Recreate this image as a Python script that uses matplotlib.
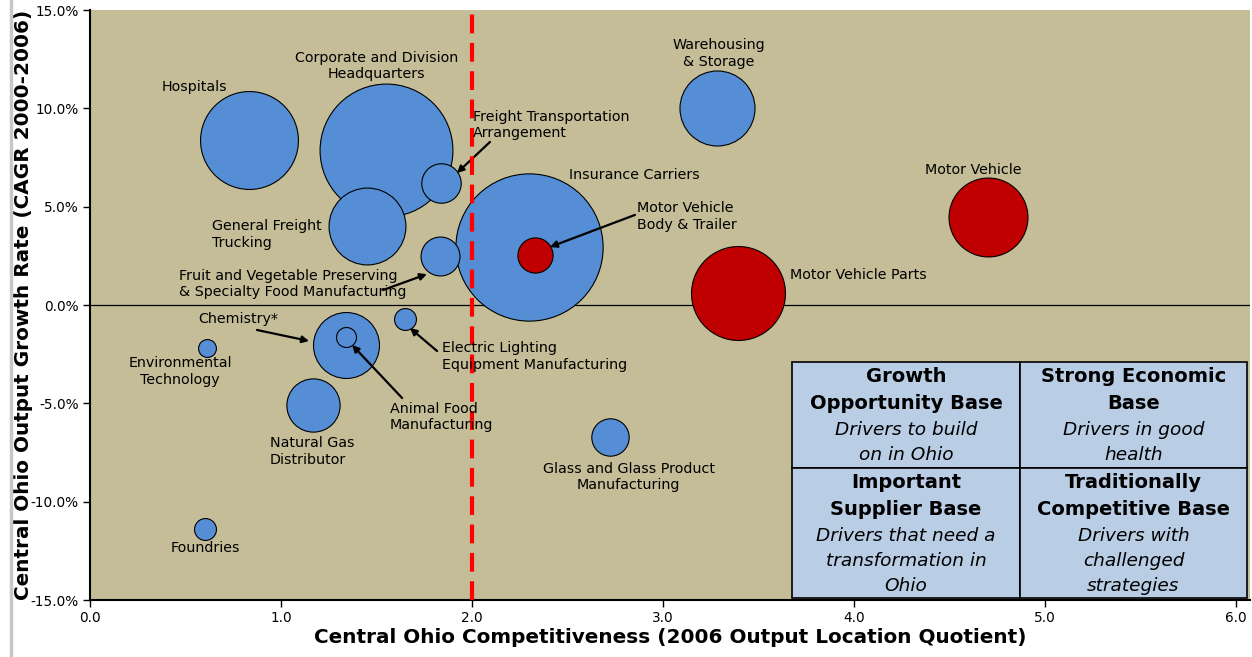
import matplotlib
matplotlib.use("Agg")
import matplotlib.pyplot as plt
from matplotlib.patches import Rectangle
from matplotlib.lines import Line2D

# industry clusters: competitiveness (LQ), output growth (%), bubble size (output)
names = ["Hospitals", "Corporate and Division Headquarters", "Freight Transportation Arrangement",
         "General Freight Trucking", "Fruit and Vegetable Preserving", "Insurance Carriers",
         "Motor Vehicle Body & Trailer", "Warehousing & Storage", "Motor Vehicle",
         "Motor Vehicle Parts", "Chemistry*", "Animal Food Manufacturing",
         "Electric Lighting Equipment Manufacturing", "Environmental Technology",
         "Natural Gas Distributor", "Glass and Glass Product Manufacturing", "Foundries"]
lq = [0.83, 1.55, 1.84, 1.45, 1.83, 2.30, 2.33, 3.28, 4.70, 3.39, 1.34, 1.34, 1.65, 0.61, 1.17, 2.72, 0.60]
growth = [8.4, 7.9, 6.2, 4.0, 2.5, 2.95, 2.55, 10.0, 4.5, 0.6, -2.05, -1.65, -0.7, -2.2, -5.1, -6.7, -11.4]
size = [240, 442, 39, 148, 38, 543, 31, 141, 156, 221, 109, 10, 12, 8, 71, 35, 12]
auto = [False, False, False, False, False, False, True, False, True, True, False, False, False, False, False, False, False]

xticks = [0.0, 1.0, 2.0, 3.0, 4.0, 5.0, 6.0]
yticks = [-15, -10, -5, 0, 5, 10, 15]

bg = "#C4BD97"
blue = "#558ED5"
red = "#C00000"
boxc = "#B9CDE5"

fig = plt.figure(figsize=(12.52, 6.57), dpi=100)
ax = fig.add_axes([90/1252, 57/657, 1160/1252, 590/657])
ax.set_facecolor(bg)
ax.set_xlim(0, 6.073)
ax.set_ylim(-15, 15)

# draw big bubbles first so small ones sit on top
order = sorted(range(len(names)), key=lambda i: -size[i])
for i in order:
    ax.scatter(lq[i], growth[i], s=size[i] * 20.7, color=red if auto[i] else blue,
               edgecolors="black", linewidths=0.8, zorder=3)

ax.axhline(0, color="black", lw=0.9, zorder=2)
ax.axvline(2.0, color="#FF0000", lw=3, dashes=(4.5, 2.3), zorder=4)

ax.set_xticks(xticks)
ax.set_xticklabels(["%.1f" % t for t in xticks], fontsize=9.8)
ax.set_yticks(yticks)
ax.set_yticklabels(["%.1f%%" % t for t in yticks], fontsize=9.8)
ax.tick_params(direction="out", length=5, width=1, pad=3)
for s in ["top", "right"]:
    ax.spines[s].set_visible(False)
for s in ["left", "bottom"]:
    ax.spines[s].set_linewidth(1.5)

ax.set_xlabel("Central Ohio Competitiveness (2006 Output Location Quotient)",
              fontsize=14.4, fontweight="bold", labelpad=2)
ax.set_ylabel("Central Ohio Output Growth Rate (CAGR 2000-2006)",
              fontsize=14.4, fontweight="bold")
ax.yaxis.set_label_coords(-57/1160, 0.5)

fs = 10.3
ls = 1.25
def lab(x, y, t, ha="center"):
    ax.text(x, y, t, ha=ha, va="center", fontsize=fs, linespacing=ls, zorder=5)

# plain labels
lab(0.545, 11.1, "Hospitals")
lab(1.50, 12.15, "Corporate and Division\nHeadquarters")
lab(3.29, 12.8, "Warehousing\n& Storage")
lab(2.85, 6.6, "Insurance Carriers")
lab(4.625, 6.85, "Motor Vehicle")
lab(3.665, 1.55, "Motor Vehicle Parts", "left")
lab(0.64, 3.6, "General Freight\nTrucking", "left")
lab(0.471, -3.4, "Environmental\nTechnology")
lab(0.942, -7.45, "Natural Gas\nDistributor", "left")
lab(2.82, -8.75, "Glass and Glass Product\nManufacturing")
lab(0.602, -12.35, "Foundries")

# labels with arrows
arrow = dict(arrowstyle="-|>", color="black", lw=1.6, mutation_scale=10, shrinkA=0, shrinkB=0)
lab(2.005, 9.15, "Freight Transportation\nArrangement", "left")
ax.annotate("", xy=(1.921, 6.71), xytext=(2.094, 8.29), arrowprops=arrow)
lab(2.864, 4.5, "Motor Vehicle\nBody & Trailer", "left")
ax.annotate("", xy=(2.408, 2.95), xytext=(2.853, 4.58), arrowprops=arrow, zorder=5)
lab(0.466, 1.07, "Fruit and Vegetable Preserving\n& Specialty Food Manufacturing", "left")
ax.annotate("", xy=(1.764, 1.57), xytext=(1.534, 0.76), arrowprops=arrow)
lab(0.775, -0.7, "Chemistry*")
ax.annotate("", xy=(1.147, -1.83), xytext=(0.874, -1.27), arrowprops=arrow, zorder=5)
lab(1.571, -5.7, "Animal Food\nManufacturing", "left")
ax.annotate("", xy=(1.372, -2.03), xytext=(1.634, -4.73), arrowprops=arrow, zorder=5)
lab(1.843, -2.6, "Electric Lighting\nEquipment Manufacturing", "left")
ax.annotate("", xy=(1.675, -1.17), xytext=(1.817, -2.34), arrowprops=arrow, zorder=5)

# quadrant legend box (axes fraction)
x0, xm, x1 = 0.605, 0.802, 0.997
y0, ym, y1 = 0.003, 0.224, 0.403
for (a, b, c, d) in [(x0, ym, xm, y1), (xm, ym, x1, y1), (x0, y0, xm, ym), (xm, y0, x1, ym)]:
    ax.add_patch(Rectangle((a, b), c - a, d - b, transform=ax.transAxes, facecolor=boxc,
                           edgecolor="black", lw=1.2, zorder=6))

cells = [
    ((x0 + xm) / 2, y1, ["Growth", "Opportunity Base"], ["Drivers to build", "on in Ohio"]),
    ((xm + x1) / 2, y1, ["Strong Economic", "Base"], ["Drivers in good", "health"]),
    ((x0 + xm) / 2, ym, ["Important", "Supplier Base"], ["Drivers that need a", "transformation in", "Ohio"]),
    ((xm + x1) / 2, ym, ["Traditionally", "Competitive Base"], ["Drivers with", "challenged", "strategies"]),
]
for cx, top, bold, ital in cells:
    y = top - 14.5 / 590
    for t in bold:
        ax.text(cx, y, t, transform=ax.transAxes, ha="center", va="center",
                fontsize=14, fontweight="bold", zorder=7)
        y -= 26.8 / 590
    for t in ital:
        ax.text(cx, y, t, transform=ax.transAxes, ha="center", va="center",
                fontsize=13.3, style="italic", zorder=7)
        y -= 24.8 / 590

fig.add_artist(Line2D([11/1252, 11/1252], [0, 1], color="#C8C8C8", lw=2.5))

fig.savefig("out.png", dpi=100)
